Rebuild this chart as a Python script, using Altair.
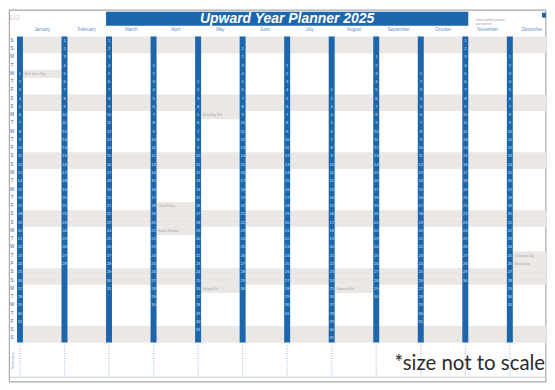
import altair as alt
import pandas as pd

# ---------------- data ----------------
months = ["January", "February", "March", "April", "May", "June",
          "July", "August", "September", "October", "November", "December"]
start_rows = [5, 1, 1, 4, 6, 2, 4, 7, 3, 5, 1, 3]          # row of day 1 (row 1 = Saturday)
days_in_month = [31, 28, 31, 30, 31, 30, 31, 31, 30, 31, 30, 31]
weekday_letters = ["S", "S", "M", "T", "W", "T", "F"]
n_rows = 37
weekend_rows = [1, 2, 8, 9, 15, 16, 22, 23, 29, 30, 36, 37]
holiday_month = [1, 4, 4, 5, 5, 8, 12, 12]
holiday_day = [1, 18, 21, 5, 26, 25, 25, 26]
holiday_name = ["New Year's Day", "Good Friday", "Easter Monday", "Early May B.H.",
                "Spring B.H.", "Summer B.H.", "Christmas Day", "Boxing Day"]
title_text = "Upward Year Planner 2025"
note_text = "*size not to scale"

# ---------------- layout (month units / row units) ----------------
STRIP_W = 0.134
X_DOMAIN = [-0.179, 11.879]
Y_DOMAIN = [-3.253, 41.807]
BLUE = "#1b66ad"
GREY = "#ebe7e4"

xs = alt.Scale(domain=X_DOMAIN, nice=False, zero=False)
ys = alt.Scale(domain=Y_DOMAIN, nice=False, zero=False, reverse=True)


def X(f="x"):
    return alt.X(f + ":Q", scale=xs, axis=None)


def Y(f="y"):
    return alt.Y(f + ":Q", scale=ys, axis=None)


# shaded bands (weekends + bank holidays)
band_rows = []
for r in weekend_rows:
    band_rows.append({"x": STRIP_W, "x2": 12.5, "y": r - 1, "y2": r})
for hm, hd in zip(holiday_month, holiday_day):
    m = hm - 1
    row = start_rows[m] + hd - 1
    band_rows.append({"x": m + STRIP_W, "x2": m + 1, "y": row - 1, "y2": row})
bands_df = pd.DataFrame(band_rows)

hol_lbl = []
for hm, hd, nm in zip(holiday_month, holiday_day, holiday_name):
    m = hm - 1
    row = start_rows[m] + hd - 1
    hol_lbl.append({"x": m + STRIP_W + 0.04, "y": row - 0.5, "t": nm})
hol_df = pd.DataFrame(hol_lbl)

strips_df = pd.DataFrame([{"x": m, "x2": m + STRIP_W, "y": 0, "y2": n_rows}
                          for m in range(len(months))])

day_rows = []
for m, (s, n) in enumerate(zip(start_rows, days_in_month)):
    for d in range(1, n + 1):
        day_rows.append({"x": m + STRIP_W / 2, "y": s + d - 1 - 0.5, "t": str(d)})
days_df = pd.DataFrame(day_rows)

wd_df = pd.DataFrame([{"x": -0.11, "y": r - 0.5, "t": weekday_letters[(r - 1) % 7]}
                      for r in range(1, n_rows + 1)])

mlab_df = pd.DataFrame([{"x": m + (1 + STRIP_W) / 2, "y": -0.84, "t": nm}
                        for m, nm in enumerate(months)])

title_rect_df = pd.DataFrame([{"x": 2, "x2": 10 + STRIP_W, "y": -3.01, "y2": -1.325}])
title_df = pd.DataFrame([{"x": (2 + 10 + STRIP_W) / 2, "y": -2.14, "t": title_text}])

dots_df = pd.DataFrame([{"x": m + STRIP_W / 2, "y": n_rows + 0.35, "y2": n_rows + 4.0}
                        for m in range(len(months))])

line_df = pd.DataFrame([{"x": -0.15, "x2": 11.879, "y": 41.2}])
frame_df = pd.DataFrame([{"x": -0.17, "x2": 11.875, "y": -3.2, "y2": 41.75}])
note_df = pd.DataFrame([{"x": 11.86, "y": 39.55, "t": note_text}])
box_df = pd.DataFrame([{"x": 11.79, "x2": 11.879, "y": -2.89, "y2": -2.29}])
small_df = pd.DataFrame([{"x": 10.3, "y": -2.05, "t": "www.example planner"},
                         {"x": 10.3, "y": -1.55, "t": "year planner"}])
logo_df = pd.DataFrame([{"x": -0.05, "y": -2.3, "t": "UJ"}])
notes_lbl_df = pd.DataFrame([{"x": -0.1, "y": 39.2, "t": "Reminders"}])

# ---------------- layers ----------------
frame = alt.Chart(frame_df).mark_rect(filled=False, stroke="#a9a9a9", strokeWidth=1.2).encode(
    x=X(), x2="x2:Q", y=Y(), y2="y2:Q")
bands = alt.Chart(bands_df).mark_rect(color=GREY, clip=True).encode(
    x=X(), x2="x2:Q", y=Y(), y2="y2:Q")
hol = alt.Chart(hol_df).mark_text(align="left", baseline="middle", fontSize=3,
                                  color="#a5a5a5", font="Liberation Sans").encode(
    x=X(), y=Y(), text="t:N")
strips = alt.Chart(strips_df).mark_rect(color=BLUE).encode(
    x=X(), x2="x2:Q", y=Y(), y2="y2:Q")
days = alt.Chart(days_df).mark_text(align="center", baseline="middle", fontSize=4,
                                    color="#dfeaf6", font="Liberation Sans").encode(
    x=X(), y=Y(), text="t:N")
wd = alt.Chart(wd_df).mark_text(align="center", baseline="middle", fontSize=4.5,
                                color="#2a5f96", font="Liberation Sans").encode(
    x=X(), y=Y(), text="t:N")
mlab = alt.Chart(mlab_df).mark_text(align="center", baseline="middle", fontSize=4.5,
                                    color="#5f8fc0", font="Liberation Sans").encode(
    x=X(), y=Y(), text="t:N")
trect = alt.Chart(title_rect_df).mark_rect(color=BLUE).encode(
    x=X(), x2="x2:Q", y=Y(), y2="y2:Q")
ttext = alt.Chart(title_df).mark_text(align="center", baseline="middle", fontSize=14,
                                      fontWeight="bold", fontStyle="italic",
                                      color="white", font="Liberation Sans").encode(
    x=X(), y=Y(), text="t:N")
dots = alt.Chart(dots_df).mark_rule(color="#a6c4e2", strokeWidth=1.3,
                                    strokeDash=[1, 1.5]).encode(
    x=X(), y=Y(), y2="y2:Q")
bline = alt.Chart(line_df).mark_rule(color="#c8c8c8", strokeWidth=1).encode(
    x=X(), x2="x2:Q", y=Y())
box = alt.Chart(box_df).mark_rect(color=BLUE).encode(
    x=X(), x2="x2:Q", y=Y(), y2="y2:Q")
small = alt.Chart(small_df).mark_text(align="left", baseline="middle", fontSize=3,
                                      color="#a0a0a0", font="Liberation Sans").encode(
    x=X(), y=Y(), text="t:N")
logo = alt.Chart(logo_df).mark_text(align="center", baseline="middle", fontSize=8,
                                    color="#d8c8be", font="Liberation Sans").encode(
    x=X(), y=Y(), text="t:N")
notes_lbl = alt.Chart(notes_lbl_df).mark_text(align="center", baseline="middle", fontSize=3.5,
                                              angle=270, color="#7f9fbf",
                                              font="Liberation Sans").encode(
    x=X(), y=Y(), text="t:N")
note = alt.Chart(note_df).mark_text(align="right", baseline="middle", fontSize=20.5,
                                    color="#2b2b2b", font="Lato").encode(
    x=X(), y=Y(), text="t:N")

chart = alt.layer(frame, bands, hol, strips, days, wd, mlab, trect, ttext, dots,
                  bline, box, small, logo, notes_lbl, note).properties(
    width=539, height=374, padding=0, background="white"
).configure_view(stroke=None)

chart.save("out.html", embed_options={"renderer": "svg", "actions": False})
